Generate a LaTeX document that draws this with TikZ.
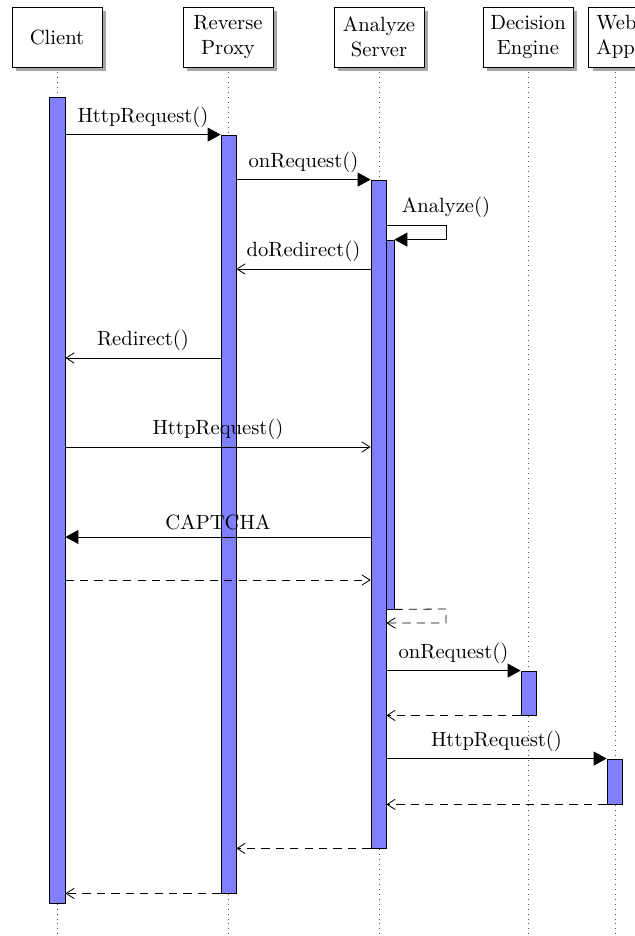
\documentclass[tikz,border=0pt]{standalone}
\usetikzlibrary{arrows.meta,shadows,fit,backgrounds}
\definecolor{barblue}{HTML}{8080FF}
\begin{document}
\begin{tikzpicture}[x=0.485pt,y=-0.485pt,
  head/.style={draw, fill=white, minimum width=43.65pt, minimum height=29.1pt, align=center,
    drop shadow={shadow xshift=2pt, shadow yshift=-2pt, fill=black!35, opacity=1}},
  lifeline/.style={dotted, black!70},
  actbar/.style={draw, fill=barblue, inner sep=0pt},
  callmsg/.style={-{Triangle[length=6.3pt,width=6.8pt]}},
  retmsg/.style={-{Straight Barb[length=3.9pt,width=5pt]}},
  dashmsg/.style={retmsg, dash pattern=on 4pt off 3pt},
  lbl/.style={above, midway}
]
\useasboundingbox (0,0) rectangle (634,936);

% heads
\node[head] (client) at (57,37) {Client};
\node[head] (proxy) at (228,37) {Reverse\\Proxy};
\node[head] (analyze) at (379,37) {Analyze\\Server};
\node[head] (decision) at (528,37) {Decision\\Engine};
\node[head, anchor=west, text width=36pt, align=left, inner xsep=3.9pt] (webapp) at (588,37) {Web\\App};

% lifeline ends
\coordinate (clientend) at (57,940);
\coordinate (proxyend) at (228,940);
\coordinate (analyzeend) at (379,940);
\coordinate (decisionend) at (528,940);
\coordinate (webappend) at (615,940);

\begin{scope}[on background layer]
\draw[lifeline] (client.south) -- (clientend);
\draw[lifeline] (proxy.south) -- (proxyend);
\draw[lifeline] (analyze.south) -- (analyzeend);
\draw[lifeline] (decision.south) -- (decisionend);
\draw[lifeline] (webapp.south -| webappend) -- (webappend);
\end{scope}

% activation bars
\node[actbar, fit={(49,97)(65,903)}] (cbar) {};
\node[actbar, fit={(221,135)(236,893)}] (pbar) {};
\node[actbar, fit={(371,180)(386,848)}] (abar) {};
\node[actbar, fit={(386,240)(394,609)}] (nbar) {};
\node[actbar, fit={(521,671)(536,715)}] (dbar) {};
\node[actbar, fit={(607,759)(622,804)}] (wbar) {};

% messages
\draw[callmsg] (cbar.east |- pbar.north) -- node[lbl]{HttpRequest()} (pbar.north west);
\draw[callmsg] (pbar.east |- abar.north) -- node[lbl]{onRequest()} (abar.north west);

\coordinate (sc) at (446,225);
\draw[callmsg] (abar.east |- sc) -- (sc) node[above]{Analyze()} -- (sc |- nbar.north) -- (nbar.north east);

\draw[retmsg] (abar.west |- 0,269) -- node[lbl]{doRedirect()} (pbar.east |- 0,269);
\draw[retmsg] (pbar.west |- 0,358) -- node[lbl]{Redirect()} (cbar.east |- 0,358);
\draw[retmsg] (cbar.east |- 0,447) -- node[lbl]{HttpRequest()} (abar.west |- 0,447);
\draw[callmsg] (abar.west |- 0,537) -- node[lbl]{CAPTCHA} (cbar.east |- 0,537);
\draw[dashmsg] (cbar.east |- 0,580) -- (abar.west |- 0,580);

\coordinate (sr) at (446,609);
\draw[dashmsg] (nbar.south east) -- (sr) -- (sr |- 0,623) -- (abar.east |- 0,623);

\draw[callmsg] (abar.east |- dbar.north) -- node[lbl]{onRequest()} (dbar.north west);
\draw[dashmsg] (dbar.south west) -- (abar.east |- dbar.south);
\draw[callmsg] (abar.east |- wbar.north) -- node[lbl]{HttpRequest()} (wbar.north west);
\draw[dashmsg] (wbar.south west) -- (abar.east |- wbar.south);
\draw[dashmsg] (abar.south west) -- (pbar.east |- abar.south);
\draw[dashmsg] (pbar.south west) -- (cbar.east |- pbar.south);
\end{tikzpicture}
\end{document}
